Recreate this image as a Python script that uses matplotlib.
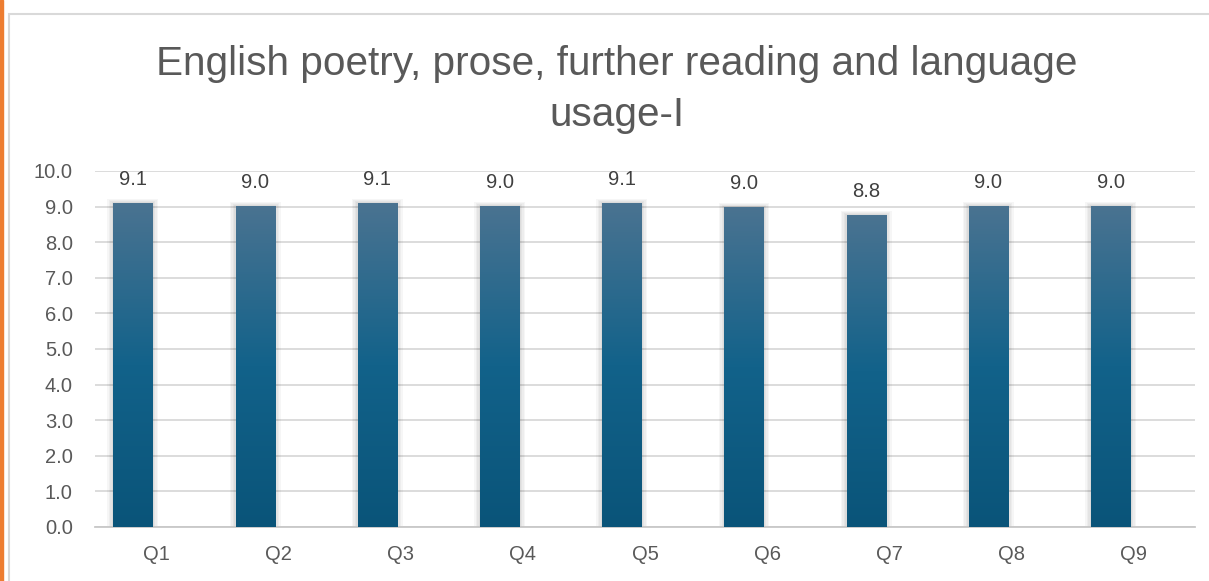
import matplotlib
matplotlib.use("Agg")
import matplotlib.pyplot as plt
import matplotlib.colors as mcolors
from matplotlib.patches import Rectangle
import numpy as np

categories = ["Q1", "Q2", "Q3", "Q4", "Q5", "Q6", "Q7", "Q8", "Q9"]
scores = [9.1, 9.02, 9.1, 9.02, 9.1, 8.98, 8.76, 9.02, 9.02]
labels = ["9.1", "9.0", "9.1", "9.0", "9.1", "9.0", "8.8", "9.0", "9.0"]
title = "English poetry, prose, further reading and language\nusage-I"

plt.rcParams['font.family'] = ['Liberation Sans', 'DejaVu Sans']
text_color = '#595959'
grid_color = '#d9d9d9'

W, H = 1209, 581
fig = plt.figure(figsize=(W / 100, H / 100), dpi=100)

# orange strip on the left and grey chart frame
fig.patches.append(Rectangle((0, 0), 3 / W, 1, transform=fig.transFigure,
                             color='#ed7d31', zorder=0))
fig.patches.append(Rectangle((9 / W, -0.1), 1.2, (1 - 14 / H) + 0.1,
                             transform=fig.transFigure, fill=False,
                             edgecolor=grid_color, linewidth=1.5, zorder=0))

ax = fig.add_axes([95 / W, 1 - 527 / H, 1100 / W, 356 / H])
x = np.arange(len(categories))
# bars sit left of the category centre (Excel layout with an empty 2nd series)
offset = -0.19
bars = ax.bar(x + offset, scores, width=0.32, color='none', zorder=3)

# vertical gradient inside each bar
cmap = mcolors.LinearSegmentedColormap.from_list('bar', ['#0a5479', '#12628a', '#4a7391'])
grad = np.linspace(0, 1, 256).reshape(-1, 1)
for b in bars:
    x0, w, h = b.get_x(), b.get_width(), b.get_height()
    # soft shadow
    for k in range(1, 5):
        ax.add_patch(Rectangle((x0 - 0.012 * k, 0), w + 0.024 * k, h + 0.03 * k,
                               color='black', alpha=0.035, linewidth=0, zorder=2))
    im = ax.imshow(grad, extent=[x0, x0 + w, 0, h], origin='lower',
                   aspect='auto', cmap=cmap, zorder=3)
    im.set_clip_path(b)

for xi, v, lab in zip(x + offset, scores, labels):
    ax.text(xi, v + 0.66, lab, ha='center', va='center', fontsize=14.5, color='#404040')

ax.set_xlim(-0.5, len(categories) - 0.5)
ax.set_ylim(0, 10)
ax.set_yticks(np.arange(0, 10.01, 1.0))
ax.set_yticklabels([f"{t:.1f}" for t in np.arange(0, 10.01, 1.0)])
ax.set_xticks(x)
ax.set_xticklabels(categories)
ax.tick_params(axis='both', length=0, labelsize=14.5, labelcolor=text_color)
ax.tick_params(axis='y', pad=16)
ax.tick_params(axis='x', pad=13)
ax.yaxis.grid(True, color=grid_color, linewidth=1.3, zorder=0)
ax.set_axisbelow(True)
for s in ['top', 'right', 'left']:
    ax.spines[s].set_visible(False)
ax.spines['bottom'].set_color('#c8c8c8')
ax.spines['bottom'].set_linewidth(1.3)

fig.text(617 / W, 1 - 89.5 / H, title, ha='center', va='center', fontsize=29.2,
         color=text_color, linespacing=1.42)

fig.savefig('out.png', dpi=100)
